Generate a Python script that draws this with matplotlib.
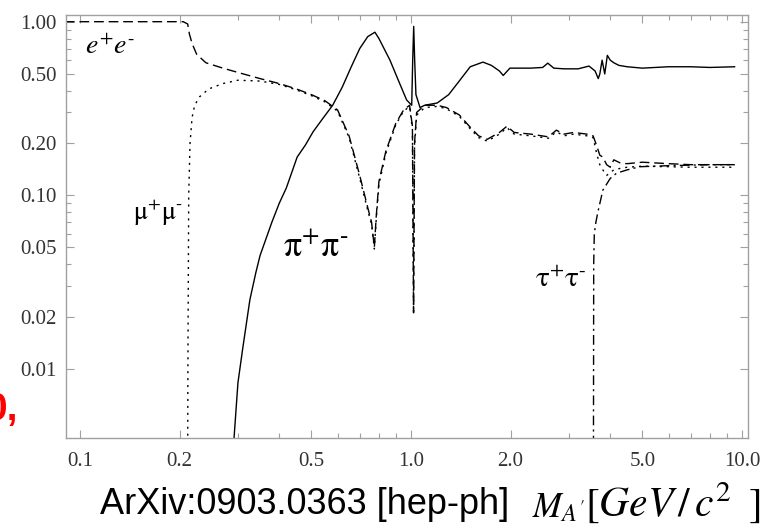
import matplotlib
matplotlib.use("Agg")
import matplotlib.pyplot as plt
from matplotlib.ticker import FixedLocator, FixedFormatter, NullFormatter

plt.rcParams['mathtext.fontset'] = 'stix'
plt.rcParams['font.family'] = ['Liberation Serif', 'DejaVu Serif']

# branching ratios of A' vs mass (GeV)
ee_x = [0.09, 0.205, 0.2115, 0.214, 0.218, 0.225, 0.24, 0.27, 0.30, 0.35, 0.40, 0.45,
        0.50, 0.55, 0.60, 0.65, 0.70, 0.74, 0.76, 0.775, 0.785, 0.80, 0.84, 0.90, 0.95,
        0.99, 1.01, 1.018, 1.025, 1.04, 1.1, 1.2, 1.28, 1.4, 1.5, 1.6, 1.7, 1.85, 1.95,
        2.05, 2.3, 2.6, 2.75, 2.9, 3.1, 3.4, 3.55, 3.65, 3.72, 3.8, 3.9, 4.0, 4.1, 4.3,
        4.5, 5.0, 6.0, 7.0, 8.0, 9.5]
ee_y = [1.0, 1.0, 0.97, 0.85, 0.75, 0.65, 0.58, 0.54, 0.51, 0.47, 0.44, 0.41,
        0.38, 0.35, 0.31, 0.22, 0.13, 0.085, 0.07, 0.05, 0.075, 0.12, 0.18, 0.26, 0.31,
        0.33, 0.25, 0.021, 0.2, 0.30, 0.33, 0.33, 0.32, 0.29, 0.25, 0.22, 0.21, 0.23, 0.25,
        0.23, 0.225, 0.217, 0.237, 0.225, 0.23, 0.225, 0.22, 0.19, 0.17, 0.166, 0.15, 0.145, 0.16, 0.153,
        0.152, 0.155, 0.152, 0.15, 0.15, 0.15]

mm_x = [0.2112, 0.2118, 0.213, 0.215, 0.218, 0.222, 0.23, 0.245, 0.27, 0.30, 0.35, 0.40,
        0.45, 0.50, 0.55, 0.60, 0.65, 0.70, 0.74, 0.76, 0.775, 0.785, 0.80, 0.84, 0.90,
        0.95, 0.99, 1.01, 1.018, 1.025, 1.04, 1.1, 1.2, 1.28, 1.4, 1.5, 1.6, 1.7, 1.85,
        1.95, 2.05, 2.3, 2.6, 2.75, 2.9, 3.1, 3.4, 3.55, 3.65, 3.72, 3.8, 3.9, 4.0, 4.1,
        4.3, 4.5, 5.0, 6.0, 7.0, 8.0, 9.5]
mm_y = [0.001, 0.01, 0.1, 0.2, 0.28, 0.33, 0.37, 0.41, 0.44, 0.46, 0.455, 0.435,
        0.405, 0.375, 0.345, 0.305, 0.215, 0.125, 0.082, 0.068, 0.049, 0.072, 0.115, 0.175, 0.255,
        0.305, 0.325, 0.24, 0.021, 0.19, 0.29, 0.32, 0.325, 0.315, 0.285, 0.245, 0.215, 0.205, 0.225,
        0.245, 0.225, 0.22, 0.213, 0.232, 0.22, 0.225, 0.22, 0.215, 0.17, 0.15, 0.14, 0.13, 0.135, 0.14,
        0.143, 0.145, 0.147, 0.146, 0.145, 0.145, 0.145]

pi_x = [0.2905, 0.292, 0.30, 0.31, 0.326, 0.34, 0.35, 0.38, 0.40, 0.42, 0.453, 0.48,
        0.506, 0.54, 0.58, 0.62, 0.66, 0.70, 0.74, 0.778, 0.80, 0.864, 0.92,
        0.97, 1.005, 1.012, 1.019, 1.026, 1.035, 1.065, 1.1, 1.2, 1.3, 1.38, 1.51, 1.65,
        1.75, 1.85, 1.9, 1.99, 2.3, 2.5, 2.59, 2.7, 2.9, 3.2, 3.45, 3.6, 3.68, 3.72,
        3.78, 3.85, 3.92, 4.0, 4.1, 4.25, 4.5, 5.0, 6.0, 7.0, 8.0, 9.5]
pi_y = [0.001, 0.004, 0.0083, 0.013, 0.025, 0.036, 0.045, 0.070, 0.09, 0.11, 0.166, 0.195,
        0.232, 0.275, 0.33, 0.42, 0.55, 0.70, 0.82, 0.87, 0.80, 0.60, 0.45,
        0.354, 0.33, 0.6, 0.94, 0.6, 0.38, 0.32, 0.33, 0.34, 0.38, 0.44, 0.55, 0.585,
        0.56, 0.52, 0.49, 0.54, 0.54, 0.545, 0.577, 0.54, 0.535, 0.535, 0.555, 0.52, 0.47, 0.5,
        0.6, 0.5, 0.64, 0.6, 0.58, 0.56, 0.55, 0.54, 0.55, 0.55, 0.545, 0.55]

tau_x = [3.556, 3.565, 3.58, 3.62, 3.67, 3.8, 4.0, 4.18, 4.5, 4.92, 6.0, 8.0, 9.5]
tau_y = [0.001, 0.04, 0.06, 0.07, 0.08, 0.107, 0.125, 0.134, 0.14, 0.146, 0.148, 0.15, 0.15]

xticks = [0.1, 0.2, 0.5, 1.0, 2.0, 5.0, 10.0]
xtick_labels = ['0.1', '0.2', '0.5', '1.0', '2.0', '5.0', '10.0']
xminor = [0.3, 0.4, 0.6, 0.7, 0.8, 0.9, 3, 4, 6, 7, 8, 9]
yticks = [0.01, 0.02, 0.05, 0.10, 0.20, 0.50, 1.00]
ytick_labels = ['0.01', '0.02', '0.05', '0.10', '0.20', '0.50', '1.00']
yminor = [0.03, 0.04, 0.06, 0.07, 0.08, 0.09, 0.3, 0.4, 0.6, 0.7, 0.8, 0.9]

W, H = 772, 525
fig = plt.figure(figsize=(W / 100, H / 100), dpi=100)
ax = fig.add_axes([66 / W, 1 - 438 / H, (748 - 66) / W, (438 - 15) / H])

lw = 1.0
ax.plot(ee_x, ee_y, color='k', lw=lw, dashes=(7, 3.5))
ax.plot(mm_x, mm_y, color='k', lw=lw, dashes=(1.5, 3.5))
ax.plot(pi_x, pi_y, color='k', lw=lw)
ax.plot(tau_x, tau_y, color='k', lw=lw, dashes=(7, 3, 1.5, 3))

ax.set_xscale('log')
ax.set_yscale('log')
ax.set_xlim(0.0907, 10.43)
ax.set_ylim(0.00399, 1.093)

ax.xaxis.set_major_locator(FixedLocator(xticks))
ax.xaxis.set_major_formatter(FixedFormatter(xtick_labels))
ax.xaxis.set_minor_locator(FixedLocator(xminor))
ax.xaxis.set_minor_formatter(NullFormatter())
ax.yaxis.set_major_locator(FixedLocator(yticks))
ax.yaxis.set_major_formatter(FixedFormatter(ytick_labels))
ax.yaxis.set_minor_locator(FixedLocator(yminor))
ax.yaxis.set_minor_formatter(NullFormatter())

frame = '#a0a0a0'
for s in ax.spines.values():
    s.set_color(frame)
    s.set_linewidth(1.0)
ax.tick_params(which='both', direction='in', top=True, right=True, color=frame, width=0.8)
ax.tick_params(which='major', length=6)
ax.tick_params(which='minor', length=3.5)
ax.tick_params(axis='x', which='major', pad=10, labelsize=15, labelcolor='#333333')
ax.tick_params(axis='y', which='major', pad=7, labelsize=15, labelcolor='#333333')


def px(x, y):
    return x / W, 1 - y / H


fig.text(*px(85, 47), r'$e^{+}e^{\text{-}}$', fontsize=20, ha='left', va='center')
fig.text(*px(133, 213), r'$\mathrm{μ}^{+}\mathrm{μ}^{\text{-}}$', fontsize=19, ha='left', va='center')
fig.text(*px(283, 248), r'$\mathrm{π}^{+}\mathrm{π}^{\text{-}}$', fontsize=26, ha='left', va='center',
         bbox=dict(facecolor='white', edgecolor='none', pad=1), zorder=5)
fig.text(*px(535, 280), r'$\mathrm{τ}^{+}\mathrm{τ}^{\text{-}}$', fontsize=21, ha='left', va='center')

fig.text(*px(100, 514), 'ArXiv:0903.0363 [hep-ph]', fontsize=26, family='Liberation Sans',
         ha='left', va='baseline')
fig.text(*px(532, 517), r'$M_{A^{\prime}}$', fontsize=25, ha='left', va='baseline')
fig.text(*px(585, 517), r'$[GeV\,/\,c^{2}\;\;]$', fontsize=30, ha='left', va='baseline')
fig.text(*px(18, 420), '0,', fontsize=28, family='Liberation Sans', weight='bold',
         color='red', ha='right', va='baseline')

fig.savefig('out.png', dpi=100)
